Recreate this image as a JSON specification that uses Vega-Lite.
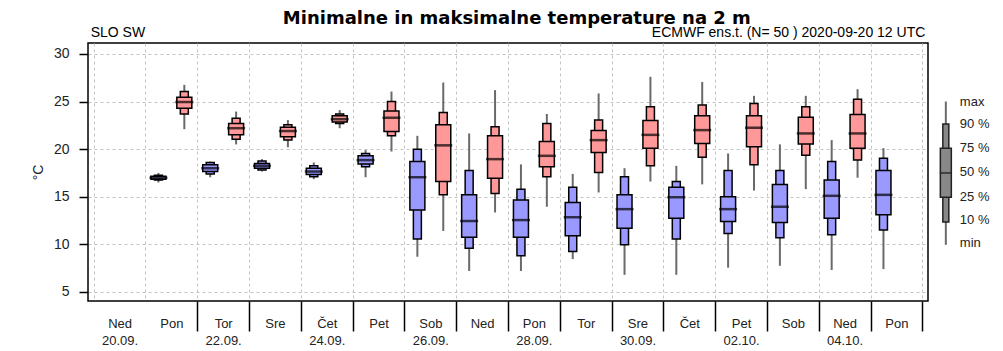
{
  "$schema": "https://vega.github.io/schema/vega-lite/v6.json",
  "padding": {"left": 30, "top": 10, "right": 5, "bottom": 5},
  "background": "white",
  "title": {"text": "Minimalne in maksimalne temperature na 2 m", "fontSize": 18, "fontWeight": "bold", "font": "DejaVu Sans", "anchor": "middle", "offset": -3, "color": "black"},
  "datasets": {
    "ens": [
      {"day": "Pon|21.09.", "type": "min", "min": 16.5, "p10": 16.75, "p25": 16.85, "p50": 17.0, "p75": 17.15, "p90": 17.25, "max": 17.5},
      {"day": "Pon|21.09.", "type": "max", "min": 22.1, "p10": 23.7, "p25": 24.3, "p50": 24.95, "p75": 25.45, "p90": 26.05, "max": 26.75},
      {"day": "Tor|22.09.", "type": "min", "min": 17.05, "p10": 17.4, "p25": 17.65, "p50": 18.0, "p75": 18.35, "p90": 18.6, "max": 18.7},
      {"day": "Tor|22.09.", "type": "max", "min": 20.5, "p10": 21.05, "p25": 21.5, "p50": 22.2, "p75": 22.7, "p90": 23.25, "max": 23.95},
      {"day": "Sre|23.09.", "type": "min", "min": 17.65, "p10": 17.8, "p25": 18.0, "p50": 18.25, "p75": 18.5, "p90": 18.75, "max": 18.95},
      {"day": "Sre|23.09.", "type": "max", "min": 20.2, "p10": 20.95, "p25": 21.3, "p50": 21.9, "p75": 22.3, "p90": 22.55, "max": 23.05},
      {"day": "Čet|24.09.", "type": "min", "min": 16.85, "p10": 17.1, "p25": 17.35, "p50": 17.65, "p75": 18.0, "p90": 18.25, "max": 18.6},
      {"day": "Čet|24.09.", "type": "max", "min": 22.2, "p10": 22.7, "p25": 22.85, "p50": 23.15, "p75": 23.5, "p90": 23.7, "max": 24.1},
      {"day": "Pet|25.09.", "type": "min", "min": 17.05, "p10": 18.15, "p25": 18.45, "p50": 18.85, "p75": 19.3, "p90": 19.55, "max": 19.9},
      {"day": "Pet|25.09.", "type": "max", "min": 19.75, "p10": 21.4, "p25": 21.85, "p50": 23.3, "p75": 24.0, "p90": 25.0, "max": 26.05},
      {"day": "Sob|26.09.", "type": "min", "min": 8.7, "p10": 10.55, "p25": 13.6, "p50": 17.05, "p75": 18.7, "p90": 20.0, "max": 21.4},
      {"day": "Sob|26.09.", "type": "max", "min": 11.4, "p10": 15.2, "p25": 16.6, "p50": 20.4, "p75": 22.55, "p90": 23.85, "max": 27.0},
      {"day": "Ned|27.09.", "type": "min", "min": 7.2, "p10": 9.6, "p25": 10.75, "p50": 12.45, "p75": 15.2, "p90": 17.75, "max": 21.65},
      {"day": "Ned|27.09.", "type": "max", "min": 13.35, "p10": 15.35, "p25": 16.95, "p50": 18.95, "p75": 21.4, "p90": 22.35, "max": 26.2},
      {"day": "Pon|28.09.", "type": "min", "min": 7.2, "p10": 8.8, "p25": 10.75, "p50": 12.55, "p75": 14.65, "p90": 15.8, "max": 18.4},
      {"day": "Pon|28.09.", "type": "max", "min": 13.95, "p10": 17.1, "p25": 18.15, "p50": 19.3, "p75": 20.8, "p90": 22.7, "max": 23.7},
      {"day": "Tor|29.09.", "type": "min", "min": 8.45, "p10": 9.25, "p25": 10.9, "p50": 12.85, "p75": 14.4, "p90": 16.0, "max": 17.4},
      {"day": "Tor|29.09.", "type": "max", "min": 15.45, "p10": 17.55, "p25": 19.65, "p50": 20.95, "p75": 21.95, "p90": 23.05, "max": 25.85},
      {"day": "Sre|30.09.", "type": "min", "min": 6.8, "p10": 9.95, "p25": 11.7, "p50": 13.7, "p75": 15.2, "p90": 17.1, "max": 18.0},
      {"day": "Sre|30.09.", "type": "max", "min": 16.6, "p10": 18.25, "p25": 20.1, "p50": 21.5, "p75": 23.0, "p90": 24.45, "max": 27.6},
      {"day": "Čet|01.10.", "type": "min", "min": 6.8, "p10": 10.55, "p25": 12.75, "p50": 14.95, "p75": 16.0, "p90": 16.6, "max": 18.25},
      {"day": "Čet|01.10.", "type": "max", "min": 16.3, "p10": 19.15, "p25": 20.6, "p50": 22.0, "p75": 23.5, "p90": 24.65, "max": 27.05},
      {"day": "Pet|02.10.", "type": "min", "min": 7.55, "p10": 11.15, "p25": 12.4, "p50": 13.7, "p75": 15.0, "p90": 17.75, "max": 19.55},
      {"day": "Pet|02.10.", "type": "max", "min": 15.65, "p10": 18.35, "p25": 20.25, "p50": 22.25, "p75": 23.5, "p90": 24.8, "max": 25.6},
      {"day": "Sob|03.10.", "type": "min", "min": 7.75, "p10": 10.7, "p25": 12.3, "p50": 13.95, "p75": 16.3, "p90": 17.75, "max": 20.5},
      {"day": "Sob|03.10.", "type": "max", "min": 15.8, "p10": 19.35, "p25": 20.55, "p50": 21.65, "p75": 23.35, "p90": 24.45, "max": 25.6},
      {"day": "Ned|04.10.", "type": "min", "min": 7.3, "p10": 11.0, "p25": 12.75, "p50": 15.1, "p75": 16.75, "p90": 18.7, "max": 20.95},
      {"day": "Ned|04.10.", "type": "max", "min": 17.0, "p10": 18.85, "p25": 20.1, "p50": 21.65, "p75": 23.65, "p90": 25.25, "max": 26.3},
      {"day": "Pon|05.10.", "type": "min", "min": 7.4, "p10": 11.5, "p25": 13.1, "p50": 15.2, "p75": 17.75, "p90": 19.05, "max": 20.1}
    ],
    "notes": [
      {"left": "SLO SW", "right": "ECMWF ens.t. (N= 50 ) 2020-09-20 12 UTC"}
    ],
    "legendbox": [
      {"min": 9.95, "p10": 12.35, "p25": 14.95, "p50": 17.5, "p75": 20.1, "p90": 22.65, "max": 25.0}
    ],
    "legendlabels": [
      {"label": "max", "value": 24.96},
      {"label": "90 %", "value": 22.65},
      {"label": "75 %", "value": 20.13},
      {"label": "50 %", "value": 17.6},
      {"label": "25 %", "value": 14.98},
      {"label": "10 %", "value": 12.56},
      {"label": "min", "value": 10.15}
    ]
  },
  "spacing": 4,
  "hconcat": [
    {
      "width": 840,
      "height": 258,
      "view": {"stroke": "black", "strokeWidth": 1.5},
      "layer": [
        {
          "data": {"name": "ens"},
          "mark": {"type": "rule", "color": "#6a6a6a", "strokeWidth": 2},
          "encoding": {
            "x": {"field": "day", "type": "nominal", "sort": null,
              "scale": {"domain": ["Ned|20.09.", "Pon|21.09.", "Tor|22.09.", "Sre|23.09.", "Čet|24.09.", "Pet|25.09.", "Sob|26.09.", "Ned|27.09.", "Pon|28.09.", "Tor|29.09.", "Sre|30.09.", "Čet|01.10.", "Pet|02.10.", "Sob|03.10.", "Ned|04.10.", "Pon|05.10."], "paddingInner": 0, "paddingOuter": 0.11},
              "axis": {"orient": "bottom", "title": null, "tickBand": "extent", "tickSize": 30, "tickWidth": 1.5, "tickColor": "black",
                "tickOpacity": {"condition": {"test": "!isString(datum.value) || datum.value === 'Ned|20.09.'", "value": 0}, "value": 1},
                "domain": false, "labelPadding": -14, "labelLineHeight": 17, "labelAngle": 0, "labelFontSize": 13, "labelColor": "#222222", "labelFont": "Liberation Sans",
                "labelExpr": "isString(datum.value) ? [split(datum.value,'|')[0], (toNumber(substring(datum.value, 4, 6)) % 2 == 0) ? substring(datum.value, 4) : ''] : ''",
                "grid": true, "gridDash": [3, 3], "gridColor": "#c4c4c4", "gridWidth": 1}},
            "xOffset": {"field": "type", "type": "nominal", "scale": {"domain": ["min", "max"], "paddingInner": 0, "paddingOuter": 0}},
            "y": {"field": "min", "type": "quantitative", "scale": {"domain": [4.05, 31.15], "nice": false, "zero": false},
              "axis": {"title": "°C", "values": [5, 10, 15, 20, 25, 30], "tickSize": 9, "tickWidth": 1.5, "tickColor": "black", "domain": false, "labelPadding": 10, "labelFontSize": 14, "labelColor": "#222222", "labelFont": "Liberation Sans", "titleFont": "Liberation Sans", "titleFontSize": 14, "titleFontWeight": "normal", "titleColor": "#222222", "titlePadding": 8,
                "grid": true, "gridDash": [3, 3], "gridColor": "#c4c4c4", "gridWidth": 1}},
            "y2": {"field": "max"}
          }
        },
        {
          "data": {"name": "ens"},
          "mark": {"type": "bar", "size": 8, "stroke": "black", "strokeWidth": 1.5},
          "encoding": {
            "x": {"field": "day", "type": "nominal", "sort": null},
            "xOffset": {"field": "type", "type": "nominal"},
            "y": {"field": "p10", "type": "quantitative"},
            "y2": {"field": "p90"},
            "fill": {"field": "type", "type": "nominal", "scale": {"domain": ["min", "max"], "range": ["#9999ff", "#ff9999"]}, "legend": null}
          }
        },
        {
          "data": {"name": "ens"},
          "mark": {"type": "bar", "size": 15, "stroke": "black", "strokeWidth": 1.5},
          "encoding": {
            "x": {"field": "day", "type": "nominal", "sort": null},
            "xOffset": {"field": "type", "type": "nominal"},
            "y": {"field": "p25", "type": "quantitative"},
            "y2": {"field": "p75"},
            "fill": {"field": "type", "type": "nominal", "legend": null}
          }
        },
        {
          "data": {"name": "ens"},
          "mark": {"type": "tick", "size": 18, "thickness": 2.5, "color": "black"},
          "encoding": {
            "x": {"field": "day", "type": "nominal", "sort": null},
            "xOffset": {"field": "type", "type": "nominal"},
            "y": {"field": "p50", "type": "quantitative"}
          }
        },
        {
          "data": {"name": "notes"},
          "mark": {"type": "text", "align": "left", "baseline": "bottom", "dy": -3, "dx": -3, "fontSize": 14, "font": "Liberation Sans", "color": "black"},
          "encoding": {
            "x": {"datum": "Ned|20.09.", "type": "nominal", "bandPosition": 0},
            "y": {"datum": 31.15, "type": "quantitative"},
            "text": {"field": "left"}
          }
        },
        {
          "data": {"name": "notes"},
          "mark": {"type": "text", "align": "right", "baseline": "bottom", "dy": -3, "dx": 3, "fontSize": 14, "font": "Liberation Sans", "color": "black"},
          "encoding": {
            "x": {"datum": "Pon|05.10.", "type": "nominal", "bandPosition": 1},
            "y": {"datum": 31.15, "type": "quantitative"},
            "text": {"field": "right"}
          }
        }
      ]
    },
    {
      "width": 70,
      "height": 258,
      "view": {"stroke": null},
      "layer": [
        {
          "data": {"name": "legendbox"},
          "mark": {"type": "rule", "color": "#6a6a6a", "strokeWidth": 2},
          "encoding": {
            "x": {"datum": 0.12, "type": "quantitative", "scale": {"domain": [0, 1]}, "axis": null},
            "y": {"field": "min", "type": "quantitative", "scale": {"domain": [4.05, 31.15], "nice": false, "zero": false}, "axis": null},
            "y2": {"field": "max"}
          }
        },
        {
          "data": {"name": "legendbox"},
          "mark": {"type": "bar", "width": 6, "color": "#888888", "stroke": "#222222", "strokeWidth": 1.5},
          "encoding": {
            "x": {"datum": 0.12, "type": "quantitative", "axis": null},
            "y": {"field": "p10", "type": "quantitative", "axis": null},
            "y2": {"field": "p90"}
          }
        },
        {
          "data": {"name": "legendbox"},
          "mark": {"type": "bar", "width": 11, "color": "#888888", "stroke": "#222222", "strokeWidth": 1.5},
          "encoding": {
            "x": {"datum": 0.12, "type": "quantitative", "axis": null},
            "y": {"field": "p25", "type": "quantitative", "axis": null},
            "y2": {"field": "p75"}
          }
        },
        {
          "data": {"name": "legendbox"},
          "mark": {"type": "tick", "size": 12, "thickness": 2, "color": "#222222", "orient": "horizontal"},
          "encoding": {
            "x": {"datum": 0.12, "type": "quantitative", "axis": null},
            "y": {"field": "p50", "type": "quantitative", "axis": null}
          }
        },
        {
          "data": {"name": "legendlabels"},
          "mark": {"type": "text", "align": "left", "baseline": "middle", "fontSize": 13, "font": "Liberation Sans", "color": "#222222"},
          "encoding": {
            "x": {"datum": 0.36, "type": "quantitative", "axis": null},
            "y": {"field": "value", "type": "quantitative", "axis": null},
            "text": {"field": "label"}
          }
        }
      ]
    }
  ],
  "config": {
    "font": "Liberation Sans",
    "axis": {"labelFont": "Liberation Sans", "titleFont": "Liberation Sans"}
  }
}
